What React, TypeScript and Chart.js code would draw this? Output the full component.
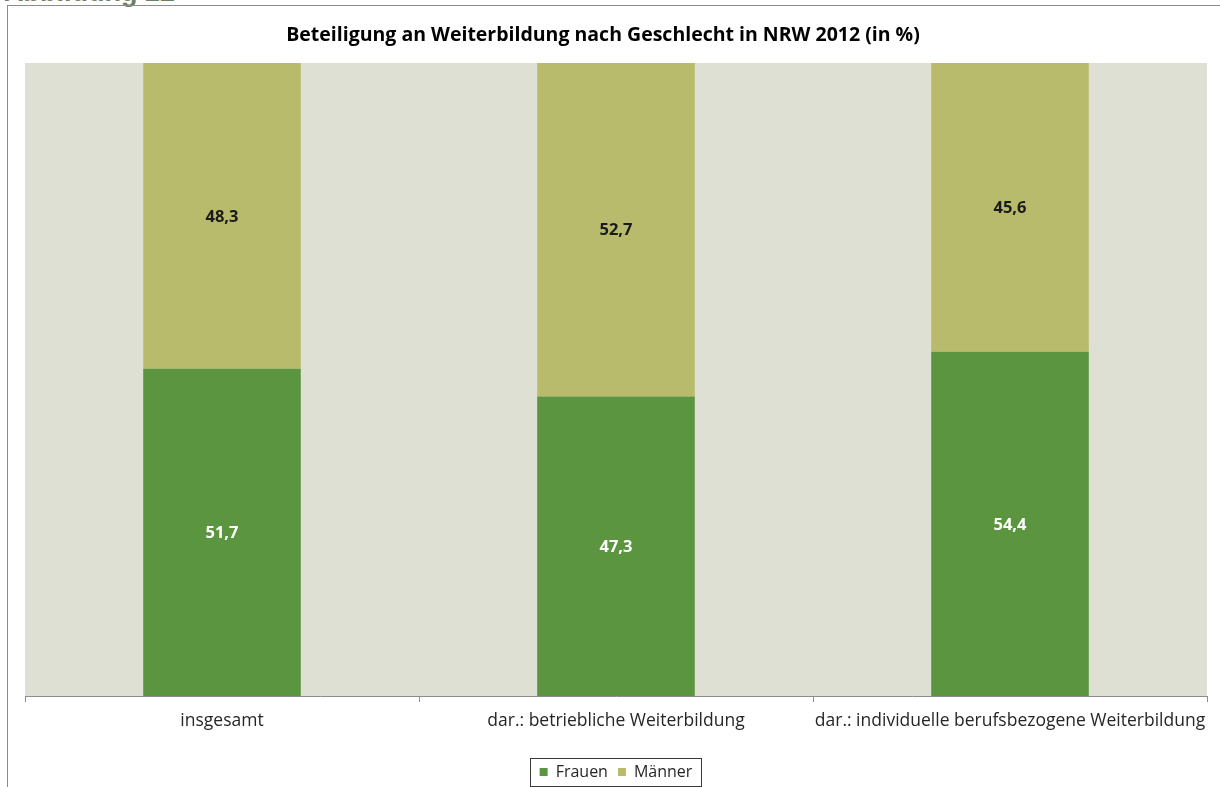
import React, { useEffect, useRef } from "react";
import { Chart, registerables } from "chart.js";

Chart.register(...registerables);

const figureLabel = "Abbildung 22";
const chartTitle = "Beteiligung an Weiterbildung nach Geschlecht in NRW 2012 (in %)";
const categories = [
  "insgesamt",
  "dar.: betriebliche Weiterbildung",
  "dar.: individuelle berufsbezogene Weiterbildung",
];
const seriesNames = ["Frauen", "Männer"];
const frauenValues = [51.7, 47.3, 54.4];
const maennerValues = [48.3, 52.7, 45.6];

const FONT = "'Open Sans', Lato, sans-serif";
const GREEN = "#5c9540";
const OLIVE = "#b8bb6b";
const PLOT_BG = "#dfe0d4";

const plotBackground = {
  id: "plotBackground",
  beforeDraw(chart: any) {
    const { ctx, chartArea } = chart;
    ctx.save();
    ctx.fillStyle = PLOT_BG;
    ctx.fillRect(chartArea.left, chartArea.top, chartArea.right - chartArea.left, chartArea.bottom - chartArea.top);
    ctx.restore();
  },
};

const shiftTitle = {
  id: "shiftTitle",
  afterLayout(chart: any) {
    const t = chart.titleBlock;
    if (t) {
      t.left = 0;
      t.right = 1206;
    }
  },
};

const valueLabels = {
  id: "valueLabels",
  afterDatasetsDraw(chart: any) {
    const ctx = chart.ctx;
    chart.data.datasets.forEach((ds: any, di: number) => {
      const meta = chart.getDatasetMeta(di);
      meta.data.forEach((el: any, i: number) => {
        const v = ds.data[i] as number;
        const p = el.getProps(["x", "y", "base"], true);
        ctx.save();
        ctx.font = `bold 16.5px ${FONT}`;
        ctx.fillStyle = di === 0 ? "#ffffff" : "#1a1a1a";
        ctx.textAlign = "center";
        ctx.textBaseline = "middle";
        ctx.fillText(v.toFixed(1).replace(".", ","), p.x, (p.y + p.base) / 2 + 1);
        ctx.restore();
      });
    });
  },
};

const legendFrame = {
  id: "legendFrame",
  afterDraw(chart: any) {
    const lg = chart.legend;
    if (!lg || !lg.legendHitBoxes || !lg.legendHitBoxes.length) return;
    const hb = lg.legendHitBoxes;
    const left = Math.min(...hb.map((h: any) => h.left)) - 10;
    const right = Math.max(...hb.map((h: any) => h.left + h.width)) + 8;
    const top = hb[0].top - 6;
    const bottom = hb[0].top + hb[0].height + 6;
    const ctx = chart.ctx;
    ctx.save();
    ctx.strokeStyle = "#3a3a3a";
    ctx.lineWidth = 1;
    ctx.strokeRect(Math.round(left) + 0.5, Math.round(top) + 0.5, Math.round(right - left), Math.round(bottom - top));
    ctx.restore();
  },
};

export default function App() {
  const canvasRef = useRef<HTMLCanvasElement | null>(null);

  useEffect(() => {
    if (!canvasRef.current) return;
    const chart = new Chart(canvasRef.current, {
      type: "bar",
      data: {
        labels: categories,
        datasets: [
          {
            label: seriesNames[0],
            data: frauenValues,
            backgroundColor: GREEN,
            borderWidth: 0,
            categoryPercentage: 1,
            barPercentage: 0.4,
          },
          {
            label: seriesNames[1],
            data: maennerValues,
            backgroundColor: OLIVE,
            borderWidth: 0,
            categoryPercentage: 1,
            barPercentage: 0.4,
          },
        ],
      },
      options: {
        responsive: false,
        animation: false,
        events: [],
        layout: { padding: { left: 25, right: 13, top: 0, bottom: -3 } },
        scales: {
          x: {
            stacked: true,
            offset: true,
            grid: {
              display: true,
              offset: true,
              drawOnChartArea: false,
              drawTicks: true,
              tickLength: 6,
              color: "#8c8c8c",
            },
            border: { display: true, color: "#8c8c8c", width: 1 },
            ticks: {
              color: "#262626",
              font: { family: FONT, size: 17.5 },
              padding: 9,
              maxRotation: 0,
              autoSkip: false,
            },
            afterFit: (scale: any) => {
              scale.height = 58;
            },
          },
          y: {
            stacked: true,
            min: 0,
            max: 100,
            display: false,
          },
        },
        plugins: {
          title: {
            display: true,
            text: chartTitle,
            color: "#000000",
            font: { family: FONT, size: 19.5, weight: "bold" },
            padding: { top: 24, bottom: 15.6 },
          },
          legend: {
            display: true,
            position: "bottom",
            labels: {
              boxWidth: 8,
              boxHeight: 8,
              padding: 10,
              color: "#262626",
              font: { family: FONT, size: 16 },
            },
          },
          tooltip: { enabled: false },
        },
      },
      plugins: [plotBackground, shiftTitle, valueLabels, legendFrame],
    });
    return () => chart.destroy();
  }, []);

  return (
    <div
      style={{
        position: "absolute",
        left: 0,
        top: 0,
        width: 1220,
        height: 787,
        overflow: "hidden",
        background: "#ffffff",
      }}
    >
      <div
        style={{
          position: "absolute",
          left: 4,
          top: -21,
          fontFamily: "'Liberation Sans', Arial, sans-serif",
          fontWeight: "bold",
          fontSize: 27,
          lineHeight: "27px",
          color: "#6f7f63",
          whiteSpace: "nowrap",
        }}
      >
        {figureLabel}
      </div>
      <div
        style={{
          position: "absolute",
          left: 7,
          top: 5,
          width: 1300,
          height: 900,
          border: "1px solid #8c8c8c",
          boxSizing: "border-box",
        }}
      />
      <canvas
        ref={canvasRef}
        width={1220}
        height={787}
        style={{ position: "absolute", left: 0, top: 0, width: 1220, height: 787 }}
      />
    </div>
  );
}
